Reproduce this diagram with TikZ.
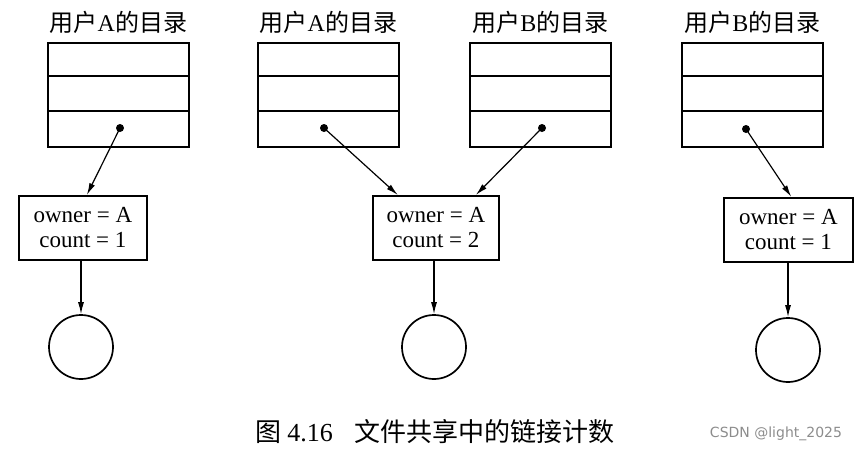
\documentclass[tikz,border=0pt]{standalone}
\usepackage{fontspec}
\setmainfont{Liberation Serif}
\newfontfamily\cjk{Noto Sans CJK SC}
\newfontfamily\wmfont{DejaVu Sans}
\usetikzlibrary{arrows.meta,calc}
\begin{document}
\begin{tikzpicture}[x=1pt,y=-1pt,
  dirbox/.style={draw, line width=1.7pt, minimum width=141pt, minimum height=104pt, inner sep=0pt, anchor=north west},
  rowline/.style={line width=1.4pt},
  dirtitle/.style={font=\fontsize{24}{28}\selectfont, inner sep=0pt},
  infobox/.style={draw, line width=1.7pt, minimum height=64pt, inner sep=0pt, anchor=north west, align=center, font=\fontsize{23}{25}\selectfont},
  filecircle/.style={draw, circle, line width=1.7pt, minimum size=64pt, inner sep=0pt},
  ptr/.style={line width=1.2pt, -{Latex[length=12pt,width=6pt]}},
  dotmark/.style={fill, circle, inner sep=0pt, minimum size=8pt}
]
\useasboundingbox (0,0) rectangle (860,453);

% directories
\node[dirbox] (d1) at (47,42) {};
\node[dirbox] (d2) at (257,42) {};
\node[dirbox] (d3) at (469,42) {};
\node[dirbox] (d4) at (681,42) {};
\foreach \d in {d1,d2,d3,d4}{
  \draw[rowline] ($(\d.north west)+(0,34)$) -- ($(\d.north east)+(0,34)$);
  \draw[rowline] ($(\d.north west)+(0,69)$) -- ($(\d.north east)+(0,69)$);
}
\node[dirtitle] (t1) at ($(d1.north)+(0,-20)$) {{\cjk 用户}A{\cjk 的目录}};
\node[dirtitle] (t2) at ($(d2.north)+(0,-20)$) {{\cjk 用户}A{\cjk 的目录}};
\node[dirtitle] (t3) at ($(d3.north)+(0,-20)$) {{\cjk 用户}B{\cjk 的目录}};
\node[dirtitle] (t4) at ($(d4.north)+(0,-20)$) {{\cjk 用户}B{\cjk 的目录}};

% pointer dots
\node[dotmark] (p1) at (120,128) {};
\node[dotmark] (p2) at (324,128) {};
\node[dotmark] (p3) at (542,128) {};
\node[dotmark] (p4) at (746,129) {};

% info boxes
\node[infobox, minimum width=128pt] (b1) at (18,195) {owner = A\\count = 1};
\node[infobox, minimum width=126pt] (b2) at (372,195) {owner = A\\count = 2};
\node[infobox, minimum width=129pt] (b3) at (723,197) {owner = A\\count = 1};

% files
\node[filecircle] (c1) at (81,347) {};
\node[filecircle] (c2) at (434,347) {};
\node[filecircle] (c3) at (788,350) {};

% connectors
\draw[ptr] (p1.center) -- ([xshift=4pt]b1.north);
\draw[ptr] (p2.center) -- ([xshift=-38pt]b2.north);
\draw[ptr] (p3.center) -- ([xshift=40pt]b2.north);
\draw[ptr] (p4.center) -- ([xshift=3pt]b3.north);
\draw[ptr] (b1.south -| c1) -- (c1.north);
\draw[ptr] (b2.south -| c2) -- (c2.north);
\draw[ptr] (b3.south -| c3) -- (c3.north);

% caption
\node[font=\fontsize{26}{30}\selectfont, inner sep=0pt] (cap) at (435,432) {{\cjk 图}\hspace{6pt}4.16\hspace{22pt}{\cjk 文件共享中的链接计数}};
\node[font=\wmfont\fontsize{14}{16}\selectfont, text=black!45, inner sep=0pt] (wm) at (776,434) {CSDN @light\_2025};
\end{tikzpicture}
\end{document}
